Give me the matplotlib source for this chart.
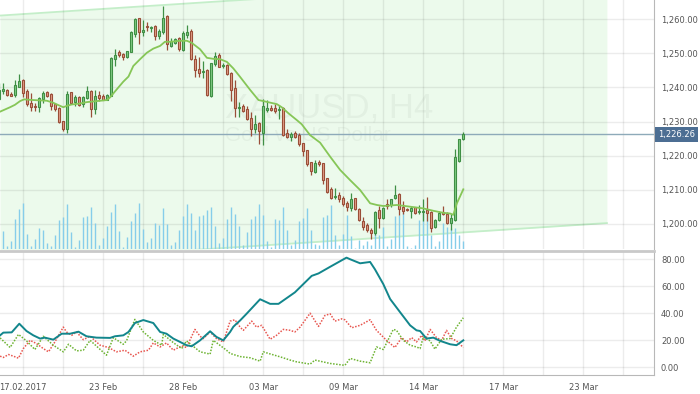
import matplotlib
matplotlib.use("Agg")
import matplotlib.pyplot as plt
import matplotlib.transforms as mtransforms
import numpy as np

# 4h bars, first one is the half-visible bar on the left edge
opens = [1236.5, 1238.9, 1239.2, 1238.1, 1237.8, 1240.2, 1242.2, 1239.0, 1235.3, 1234.7,
         1234.2, 1236.7, 1238.6, 1238.0, 1235.0, 1234.1, 1230.1, 1227.9, 1238.6, 1235.8,
         1237.3, 1235.1, 1237.0, 1239.1, 1233.8, 1237.7, 1237.4, 1236.4, 1237.6, 1248.4,
         1250.3, 1249.7, 1248.8, 1250.5, 1255.7, 1260.3, 1256.4, 1258.1, 1257.5, 1258.0,
         1255.2, 1256.2, 1261.0, 1252.3, 1253.1, 1254.5, 1251.0, 1255.5, 1256.7, 1248.4,
         1245.5, 1244.5, 1245.1, 1237.6, 1246.8, 1249.5, 1246.2, 1246.6, 1244.1, 1239.7,
         1233.9, 1234.6, 1233.7, 1231.0, 1227.9, 1229.6, 1226.7, 1233.4, 1234.1, 1234.1,
         1233.3, 1233.9, 1226.5, 1225.5, 1226.5, 1226.0, 1223.6, 1221.5, 1218.0, 1215.3,
         1218.2, 1217.7, 1213.3, 1210.1, 1207.7, 1208.4, 1207.6, 1206.2, 1204.5, 1207.5,
         1204.3, 1200.9, 1199.6, 1198.3, 1197.2, 1204.0, 1201.6, 1205.8, 1205.4, 1207.5,
         1208.7, 1205.0, 1204.3, 1203.8, 1204.8, 1203.4, 1203.4, 1204.0, 1203.4, 1199.1,
         1201.1, 1203.4, 1203.0, 1200.1, 1201.1, 1218.5, 1224.8]
highs = [1241.4, 1241.4, 1239.4, 1238.8, 1242.2, 1243.9, 1242.5, 1239.4, 1238.3, 1235.3,
         1237.1, 1239.1, 1239.1, 1238.3, 1235.5, 1234.4, 1230.2, 1239.1, 1238.8, 1237.7,
         1237.5, 1237.5, 1240.4, 1239.2, 1239.2, 1239.1, 1238.1, 1238.1, 1249.0, 1251.2,
         1251.0, 1250.0, 1250.8, 1256.7, 1260.3, 1260.5, 1259.8, 1259.2, 1258.1, 1258.2,
         1257.1, 1263.9, 1261.2, 1254.5, 1254.5, 1254.7, 1256.5, 1258.4, 1257.1, 1249.4,
         1248.8, 1247.8, 1245.3, 1247.3, 1250.5, 1250.0, 1247.1, 1246.8, 1244.6, 1242.2,
         1235.8, 1235.1, 1234.6, 1232.8, 1231.8, 1229.9, 1236.7, 1236.3, 1234.8, 1235.0,
         1234.8, 1234.2, 1227.7, 1227.0, 1227.1, 1226.5, 1223.8, 1221.7, 1218.1, 1218.7,
         1218.7, 1217.9, 1213.5, 1210.7, 1210.6, 1209.3, 1208.1, 1206.6, 1208.9, 1207.6,
         1204.5, 1202.1, 1200.1, 1198.8, 1203.8, 1205.2, 1205.0, 1207.2, 1207.4, 1211.4,
         1208.9, 1206.6, 1204.6, 1205.3, 1205.0, 1205.4, 1207.2, 1207.7, 1203.8, 1201.4,
         1203.7, 1205.3, 1203.4, 1203.0, 1222.0, 1225.0, 1226.9]
lows = [1236.3, 1238.1, 1237.5, 1237.5, 1237.3, 1240.0, 1237.3, 1234.7, 1233.2, 1233.2,
        1232.9, 1235.5, 1237.3, 1233.4, 1233.2, 1229.7, 1227.3, 1226.5, 1235.3, 1234.6,
        1234.6, 1234.2, 1236.6, 1231.4, 1232.1, 1236.0, 1236.3, 1236.3, 1237.5, 1246.4,
        1249.0, 1248.1, 1248.7, 1250.4, 1254.9, 1252.7, 1255.1, 1256.7, 1256.4, 1253.9,
        1254.2, 1255.8, 1251.0, 1252.0, 1252.9, 1250.7, 1250.7, 1254.4, 1248.1, 1243.0,
        1243.0, 1242.9, 1237.5, 1237.3, 1246.3, 1245.9, 1245.6, 1243.6, 1236.1, 1231.2,
        1231.4, 1232.9, 1230.4, 1225.7, 1226.5, 1223.4, 1223.2, 1232.9, 1233.0, 1232.6,
        1230.6, 1225.7, 1225.2, 1224.4, 1225.2, 1222.8, 1219.9, 1216.9, 1214.3, 1215.0,
        1217.0, 1211.8, 1208.9, 1207.2, 1207.3, 1206.5, 1205.3, 1203.7, 1203.8, 1204.0,
        1200.9, 1198.2, 1197.7, 1195.4, 1196.7, 1198.6, 1201.4, 1204.2, 1205.0, 1207.2,
        1202.6, 1203.0, 1203.6, 1201.8, 1203.0, 1203.0, 1200.9, 1200.7, 1197.7, 1198.6,
        1200.7, 1202.6, 1199.9, 1198.2, 1200.8, 1218.1, 1224.6]
closes = [1239.2, 1239.4, 1237.7, 1237.6, 1240.6, 1241.9, 1238.5, 1235.0, 1234.4, 1234.2,
          1236.8, 1238.3, 1237.6, 1234.7, 1233.6, 1229.9, 1227.9, 1238.0, 1235.5, 1237.2,
          1234.9, 1237.1, 1239.0, 1233.8, 1237.4, 1237.0, 1236.4, 1237.7, 1248.5, 1249.5,
          1249.5, 1248.9, 1250.7, 1256.3, 1260.1, 1256.4, 1256.9, 1257.7, 1257.8, 1255.2,
          1256.6, 1260.4, 1252.7, 1253.5, 1254.2, 1251.2, 1256.1, 1256.4, 1248.3, 1245.0,
          1244.3, 1244.8, 1237.8, 1247.1, 1249.3, 1246.1, 1246.5, 1243.9, 1239.3, 1233.9,
          1234.3, 1233.2, 1230.6, 1227.9, 1229.2, 1227.3, 1234.6, 1234.1, 1233.4, 1233.2,
          1233.6, 1226.0, 1225.4, 1226.2, 1225.4, 1223.3, 1221.2, 1217.6, 1215.6, 1217.7,
          1217.4, 1212.9, 1209.4, 1207.6, 1208.1, 1207.2, 1205.7, 1204.8, 1207.2, 1204.2,
          1201.1, 1199.1, 1198.1, 1197.2, 1203.4, 1201.6, 1204.5, 1205.2, 1207.2, 1208.4,
          1204.2, 1203.8, 1203.9, 1204.6, 1203.2, 1203.7, 1203.8, 1203.2, 1198.6, 1201.1,
          1203.1, 1202.8, 1200.1, 1201.6, 1219.5, 1224.8, 1226.26]
# tick volume, bar 0 onwards
volumes = [540, 90, 240, 900, 1200, 1380, 450, 100, 300, 630,
           570, 180, 100, 420, 870, 960, 1350, 510, 70, 270,
           960, 990, 1260, 780, 120, 330, 690, 1110, 1350, 550,
           70, 360, 840, 1080, 1380, 600, 210, 330, 780, 720,
           1230, 750, 120, 210, 570, 990, 1350, 1080, 570, 990,
           1020, 1170, 1260, 690, 180, 330, 900, 1270, 1050, 690,
           120, 510, 900, 990, 1350, 1020, 240, 60, 900, 870,
           1260, 570, 120, 270, 840, 930, 1230, 570, 150, 120,
           960, 1020, 1320, 420, 120, 450, 1020, 390, 20, 270,
           120, 240, 120, 570, 420, 660, 90, 300, 990, 1020,
           1110, 90, 20, 120, 870, 1170, 1170, 420, 90, 250,
           780, 660, 630, 620, 420, 240]

# moving average (bar index, price)
ma_k = [-0.8, 1.7, 2.9, 4.2, 5.2, 7.5, 10.9, 12.5, 13.8, 15.0, 15.9, 17.1, 19.2, 20.9,
        23.4, 25.9, 26.7, 27.9, 30.0, 31.3, 32.5, 34.2, 35.9, 37.5, 39.2, 40.4, 41.7,
        44.2, 45.9, 47.1, 49.2, 50.9, 52.5, 54.2, 55.9, 57.5, 59.2, 61.7, 63.8, 65.0,
        68.4, 69.6, 71.3, 73.4, 74.6, 76.7, 79.2, 81.7, 84.2, 86.7, 89.2, 91.7, 93.4,
        95.0, 98.4, 101.7, 105.0, 107.5, 110.0, 111.7, 112.5, 113.4, 115.0]
ma_v = [1232.9, 1234.2, 1234.9, 1236.0, 1236.5, 1236.3, 1236.1, 1235.5, 1234.8, 1234.2,
        1234.6, 1235.0, 1235.3, 1235.7, 1236.0, 1236.3, 1237.1, 1238.8, 1241.7, 1243.2,
        1246.3, 1248.3, 1250.2, 1251.4, 1252.2, 1253.4, 1253.4, 1253.7, 1253.7, 1253.1,
        1251.2, 1248.7, 1248.4, 1248.3, 1247.5, 1245.6, 1243.1, 1239.3, 1236.3, 1236.0,
        1235.1, 1234.2, 1232.4, 1230.4, 1229.2, 1226.0, 1223.8, 1219.7, 1215.8, 1212.8,
        1209.9, 1206.0, 1205.5, 1205.2, 1205.5, 1205.0, 1204.5, 1203.8, 1203.2, 1203.0,
        1202.6, 1206.0, 1210.1]

# trend channel end points
chan_k = [-0.83, 150.9]
chan_top = [1261.1, 1272.6]
chan_bot = [1188.6, 1200.2]
last_price = 1226.26

# ADX pane
adx_k = [-0.8, 0.0, 2.1, 4.0, 5.8, 7.5, 9.2, 10.4, 12.5, 14.6, 16.7, 18.8, 20.8, 23.3,
         26.7, 27.9, 30.0, 31.3, 32.9, 35.0, 37.5, 39.2, 40.8, 42.5, 44.2, 45.8, 47.1,
         49.2, 51.7, 53.3, 55.0, 56.7, 57.5, 58.3, 59.2, 60.8, 64.2, 66.7, 68.8, 72.9,
         77.1, 78.8, 81.7, 85.8, 86.7, 89.2, 91.7, 92.9, 95.0, 96.7, 99.2, 101.7, 103.3,
         104.2, 105.8, 107.5, 109.2, 111.7, 113.3, 115.0]
adx_v = [23.7, 25.7, 25.9, 32.3, 26.9, 23.7, 21.3, 22.0, 20.5, 24.9, 24.9, 26.4, 23.0, 22.0,
         21.8, 23.0, 23.7, 26.2, 32.8, 35.0, 32.8, 26.2, 24.9, 21.3, 18.8, 16.4, 15.6,
         20.0, 26.7, 22.5, 20.0, 26.2, 30.0, 32.3, 34.7, 39.6, 50.4, 47.0, 47.0, 55.5,
         67.7, 69.5, 74.4, 81.2, 80.0, 77.0, 78.0, 72.6, 61.6, 50.6, 40.8, 31.1, 27.4,
         26.9, 21.3, 22.0, 19.6, 17.1, 16.4, 20.0]
pdi_k = [-0.8, 0.0, 1.3, 2.5, 3.8, 5.0, 6.7, 8.3, 10.0, 11.3, 12.9, 15.0, 15.8, 17.1, 18.3,
         20.0, 21.7, 24.2, 26.3, 28.3, 30.4, 32.5, 34.2, 36.3, 37.5, 39.2, 40.8, 42.5,
         44.6, 45.8, 47.9, 49.2, 50.0, 51.7, 53.3, 55.0, 56.7, 57.9, 59.2, 60.0, 62.1,
         63.3, 64.6, 66.7, 68.3, 70.0, 71.7, 72.9, 74.2, 76.7, 78.8, 80.4, 81.7, 82.9,
         84.6, 85.4, 87.1, 89.2, 91.7, 93.3, 95.8, 97.9, 99.6, 100.8, 102.1, 103.3, 104.6,
         105.4, 106.7, 108.3, 109.6, 110.8, 112.1, 113.3, 115.0]
pdi_v = [8.3, 7.3, 9.5, 8.3, 6.8, 13.9, 20.0, 17.6, 13.9, 11.5, 18.8, 29.8, 26.2, 23.7, 26.2,
         20.5, 23.0, 16.4, 14.7, 11.5, 12.7, 8.3, 11.5, 12.7, 18.1, 15.1, 18.1, 12.7,
         15.9, 14.7, 28.1, 23.0, 21.3, 26.2, 21.3, 18.8, 34.2, 35.2, 29.8, 27.4, 34.2,
         29.8, 31.1, 20.8, 23.7, 28.1, 27.4, 26.2, 29.8, 40.1, 30.3, 38.4, 39.6, 34.2,
         35.9, 35.2, 29.3, 31.1, 35.2, 27.4, 20.0, 14.7, 22.0, 18.8, 22.0, 18.8, 23.7,
         19.6, 28.1, 22.0, 20.0, 27.4, 21.3, 19.6, 14.7]
mdi_k = [-0.8, 1.7, 3.8, 5.8, 7.9, 10.0, 12.5, 15.0, 16.3, 18.3, 20.0, 21.7, 25.8, 27.5,
         30.0, 30.8, 32.9, 35.0, 37.5, 39.6, 40.0, 42.5, 44.6, 45.8, 49.2, 51.7, 52.5,
         55.8, 56.7, 59.2, 61.7, 64.2, 65.0, 66.3, 69.2, 71.7, 73.3, 76.7, 77.9, 81.7,
         85.4, 86.7, 89.2, 91.7, 93.3, 95.0, 97.5, 98.3, 100.0, 101.7, 103.3, 104.2,
         105.0, 106.7, 107.9, 109.6, 111.7, 113.3, 115.0]
mdi_v = [21.8, 14.7, 24.4, 19.6, 13.2, 23.0, 16.4, 11.5, 17.1, 12.2, 12.7, 20.0, 9.0, 22.0,
         17.1, 19.6, 35.5, 26.2, 20.0, 16.4, 24.4, 18.3, 13.9, 19.6, 11.5, 9.8, 20.0,
         12.7, 10.3, 8.0, 7.1, 4.6, 11.5, 10.3, 7.8, 5.4, 4.1, 2.4, 5.4, 2.9,
         1.5, 6.6, 4.6, 3.4, 15.1, 13.2, 28.1, 27.4, 20.0, 16.4, 15.1, 13.9,
         22.5, 19.6, 13.5, 20.8, 21.3, 29.8, 36.7]

date_ticks = [5, 25, 45, 65, 85, 105, 125, 145]
date_labels = ["17.02.2017", "23 Feb", "28 Feb", "03 Mar", "09 Mar", "14 Mar", "17 Mar", "23 Mar"]

plt.rcParams['font.family'] = ['DejaVu Sans']
txt = '#555555'
axis_c = '#b8b8b8'

fig = plt.figure(figsize=(7.0, 3.94), dpi=100)
ax = fig.add_axes([0, 1 - 249 / 394, 654 / 700, 249 / 394])
ax2 = fig.add_axes([0, 1 - 375 / 394, 654 / 700, 124 / 394], sharex=ax)

xlim = (-0.825, 162.675)
ax.set_xlim(*xlim)
ax.set_ylim(1192.58, 1265.67)
ax2.set_ylim(-5.65, 86.1)

idx = np.arange(len(opens)) - 1

# channel
ax.fill_between(chan_k, chan_bot, chan_top, color='#ecfaec', lw=0, zorder=0.2)
ax.plot(chan_k, chan_top, color='#c4eec9', lw=1.3, zorder=0.3)
ax.plot(chan_k, chan_bot, color='#c4eec9', lw=1.3, zorder=0.3)

# watermark
ax.text(225 / 654, 1 - 117 / 249, "XAUUSD, H4", transform=ax.transAxes,
        family='Liberation Sans', fontsize=25, color='black', alpha=0.04,
        ha='left', va='baseline', zorder=0.4)
ax.text(225 / 654, 1 - 141.5 / 249, "Gold vs US Dollar", transform=ax.transAxes,
        family='Liberation Sans', fontsize=15, color='black', alpha=0.04,
        ha='left', va='baseline', zorder=0.4)

# volume as thin lines along the bottom
vtrans = mtransforms.blended_transform_factory(ax.transData, ax.transAxes)
vol = np.array(volumes) / 7470.0
vl = ax.vlines(np.arange(len(volumes)), 0, vol, colors='#86cdea', lw=1.0,
               transform=vtrans, zorder=1)
vl.set_snap(True)

# last price line
ax.axhline(last_price, color='#8eaab9', lw=1, zorder=1.2)

# candles
o = np.array(opens)
c = np.array(closes)
up = c >= o
body_lo = np.minimum(o, c)
body_h = np.maximum(np.abs(c - o), 0.25)
edge = np.where(up, '#3f8f45', '#9a4e38')
fill = np.where(up, '#82cc84', '#e3a088')
ax.vlines(idx, lows, highs, colors=edge, lw=0.9, zorder=2)
ax.bar(idx, body_h, bottom=body_lo, width=0.55, color=fill, edgecolor=edge,
       linewidth=0.8, zorder=3)

# moving average
ax.plot(ma_k, ma_v, color='#86c657', lw=1.3, zorder=4)

# price label
ptrans = mtransforms.blended_transform_factory(ax.transAxes, ax.transData)
ax.annotate(f"{last_price:,.2f}", xy=(1.0, last_price), xycoords=ptrans,
            xytext=(4.0, 0), textcoords='offset pixels', ha='left', va='center',
            fontsize=6, color='white', annotation_clip=False, zorder=6,
            bbox=dict(boxstyle='square,pad=0.38', fc='#4c6e93', ec='none'))

# indicator pane
ax2.plot(adx_k, adx_v, color='#12868c', lw=1.4, zorder=3)
ax2.plot(pdi_k, pdi_v, color='#e8564f', lw=1.1, ls=(0, (1, 1)), zorder=2)
ax2.plot(mdi_k, mdi_v, color='#6db332', lw=1.1, ls=(0, (1, 1)), zorder=2)

# axes styling
for a in (ax, ax2):
    a.set_xticks(date_ticks)
    a.set_xticks([t + 10 for t in date_ticks], minor=True)
    a.grid(True, which='both', color='black', alpha=0.075, lw=1)
    a.set_axisbelow(True)
    a.yaxis.tick_right()
    a.tick_params(axis='both', which='both', length=0, labelsize=6, labelcolor=txt)
    a.tick_params(axis='y', pad=5)
    a.spines['left'].set_visible(False)
    a.spines['right'].set_color(axis_c)
    a.set_facecolor('white')

ax.set_yticks(range(1200, 1261, 10))
ax.set_yticklabels([f"{v:,.2f}" for v in range(1200, 1261, 10)])
ax.spines['top'].set_visible(False)
ax.spines['bottom'].set_visible(False)
ax.tick_params(axis='x', labelbottom=False)

ax2.set_yticks(range(0, 81, 20))
ax2.set_yticklabels([f"{v:.2f}" for v in range(0, 81, 20)])
ax2.set_xticklabels(date_labels)
ax2.tick_params(axis='x', pad=6)
ax2.spines['top'].set_color('#c9c9c9')
ax2.spines['top'].set_linewidth(2)
ax2.spines['bottom'].set_color(axis_c)
ax2.set_xlim(*xlim)

fig.savefig("out.png", dpi=100)
